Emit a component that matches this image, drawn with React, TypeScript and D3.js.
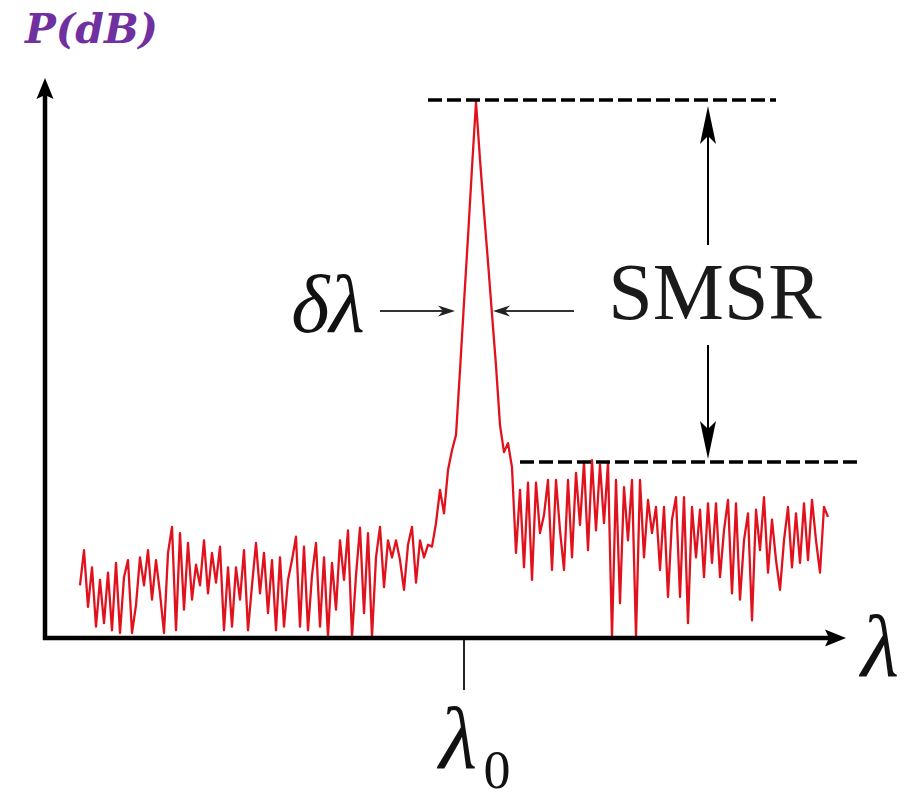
import React from "react";
import * as d3 from "d3";

// Optical spectrum of a single-mode laser (power in dB, uniformly sampled in wavelength)
const powerDb: number[] = [
  -53.7, -49.8, -56.1, -51.7, -58.3, -53.1, -57.9, -52.3, -58.7, -51.2,
  -59.0, -52.8, -50.9, -59.0, -55.9, -50.6, -53.7, -49.8, -55.3, -50.9,
  -54.6, -59.0, -50.1, -47.2, -58.7, -47.9, -56.4, -49.0, -55.3, -51.4,
  -53.7, -48.7, -54.6, -50.1, -53.4, -49.4, -58.7, -51.7, -58.3, -51.7,
  -55.3, -49.8, -58.7, -53.7, -49.0, -54.6, -50.1, -56.8, -50.9, -58.7,
  -50.6, -58.3, -53.1, -50.9, -48.3, -58.3, -49.4, -58.7, -52.6, -49.0,
  -58.3, -50.6, -59.4, -51.2, -56.4, -48.7, -53.1, -47.6, -59.4, -52.6,
  -47.3, -56.8, -47.9, -59.4, -50.6, -47.2, -53.9, -48.7, -50.6, -48.7,
  -50.9, -54.2, -49.2, -47.2, -53.4, -48.7, -50.6, -49.2, -49.4, -46.8,
  -43.1, -45.7, -40.9, -38.7, -37.0, -29.8, -22.3, -15.0, -7.3, 0.0,
  -6.4, -12.2, -17.8, -23.6, -29.3, -35.9, -38.9, -37.9, -40.6, -50.1,
  -43.1, -51.7, -42.3, -53.1, -42.3, -47.9, -45.9, -42.0, -52.0, -42.0,
  -47.6, -52.0, -42.0, -50.6, -41.2, -47.0, -40.0, -49.8, -39.8, -47.6,
  -40.3, -46.8, -40.1, -59.4, -42.0, -55.7, -42.8, -48.7, -42.0, -59.4,
  -42.0, -50.6, -44.2, -47.9, -45.0, -52.0, -45.0, -55.0, -46.4, -43.9,
  -55.0, -43.9, -57.9, -45.0, -50.6, -45.3, -52.8, -44.6, -51.2, -44.6,
  -52.8, -47.6, -44.2, -54.6, -44.6, -55.3, -48.7, -45.7, -57.6, -45.3,
  -49.8, -43.9, -52.3, -46.4, -50.9, -54.2, -48.7, -45.0, -51.7, -45.7,
  -51.2, -44.6, -50.9, -44.2, -48.7, -52.3, -45.0, -46.1,
];

// Marked levels and positions
const peakDb = 0;
const sideModeDb = -40;
const lambda0Index = 96;

// Text
const yAxisLabel = "P(dB)";
const xAxisLabel = "λ";
const widthLabel = "δλ";
const smsrLabel = "SMSR";
const centerLabel = "λ";
const centerSub = "0";

const W = 917;
const H = 799;
const originX = 45;
const originY = 638;

const x = d3.scaleLinear().domain([0, powerDb.length - 1]).range([80, 828]);
const y = d3.scaleLinear().domain([-60, 0]).range([642, 102]);

const trace = d3
  .line<number>()
  .x((_, i) => x(i))
  .y((d) => y(d))
  .curve(d3.curveLinear);

// Notched arrowhead with its tip at (tx, ty) pointing along (dx, dy)
function arrowHead(tx: number, ty: number, dx: number, dy: number, len: number, half: number, notch: number) {
  const m = Math.hypot(dx, dy);
  const ux = dx / m;
  const uy = dy / m;
  const px = -uy;
  const py = ux;
  const bx = tx - ux * len;
  const by = ty - uy * len;
  const nx = tx - ux * (len - notch);
  const ny = ty - uy * (len - notch);
  return `M${tx},${ty}L${bx + px * half},${by + py * half}L${nx},${ny}L${bx - px * half},${by - py * half}Z`;
}

export default function App() {
  const serif = "'Liberation Serif', 'Times New Roman', serif";
  const yTop = y(peakDb);
  const ySide = y(sideModeDb);
  const smsrX = 708;
  const dlY = 311;
  const tickX = x(lambda0Index);

  return (
    <svg
      width={W}
      height={H}
      viewBox={`0 0 ${W} ${H}`}
      style={{ position: "absolute", left: 0, top: 0, background: "#fff" }}
    >
      {/* spectrum */}
      <path
        d={trace(powerDb) ?? ""}
        fill="none"
        stroke="#e0121d"
        strokeWidth={2.3}
        strokeLinejoin="round"
      />

      {/* reference levels */}
      <line x1={428} x2={776} y1={yTop - 2} y2={yTop - 2} stroke="#000" strokeWidth={3.5} strokeDasharray="14 5" />
      <line x1={520} x2={862} y1={ySide} y2={ySide} stroke="#000" strokeWidth={3.5} strokeDasharray="14 5" />

      {/* axes */}
      <line x1={originX} x2={originX} y1={originY + 2} y2={92} stroke="#000" strokeWidth={4.5} />
      <path d={arrowHead(originX, 78, 0, -1, 21, 8.5, 4)} fill="#000" />
      <line x1={originX - 2} x2={830} y1={originY} y2={originY} stroke="#000" strokeWidth={4.5} />
      <path d={arrowHead(846, originY, 1, 0, 21, 8.5, 4)} fill="#000" />

      {/* center wavelength tick */}
      <line x1={tickX} x2={tickX} y1={originY + 2} y2={690} stroke="#222" strokeWidth={2} />

      {/* linewidth arrows */}
      <line x1={380} x2={445} y1={dlY} y2={dlY} stroke="#333" strokeWidth={2} />
      <path d={arrowHead(455, dlY, 1, 0, 17, 5.5, 5)} fill="#222" />
      <line x1={574} x2={503} y1={dlY} y2={dlY} stroke="#333" strokeWidth={2} />
      <path d={arrowHead(493, dlY, -1, 0, 17, 5.5, 5)} fill="#222" />

      {/* SMSR arrows */}
      <line x1={smsrX} x2={smsrX} y1={245} y2={130} stroke="#000" strokeWidth={2} />
      <path d={arrowHead(smsrX, yTop + 4, 0, -1, 38, 8, 8)} fill="#000" />
      <line x1={smsrX} x2={smsrX} y1={345} y2={430} stroke="#000" strokeWidth={2} />
      <path d={arrowHead(smsrX, ySide - 3, 0, 1, 38, 8, 8)} fill="#000" />

      {/* labels */}
      <text
        x={25}
        y={43}
        fill="#7030a0"
        fontFamily="'DejaVu Serif', serif"
        fontWeight="bold"
        fontStyle="italic"
        fontSize={41}
      >
        {yAxisLabel}
      </text>
      <text x={715} y={319} textAnchor="middle" fill="#1a1a1a" fontFamily={serif} fontSize={80}>
        {smsrLabel}
      </text>
      <text x={328} y={332} textAnchor="middle" fill="#111" fontFamily={serif} fontStyle="italic" fontSize={82}>
        {widthLabel}
      </text>
      <text x={880} y={676} textAnchor="middle" fill="#111" fontFamily={serif} fontStyle="italic" fontSize={88}>
        {xAxisLabel}
      </text>
      <text x={458} y={768} textAnchor="middle" fill="#111" fontFamily={serif} fontStyle="italic" fontSize={88}>
        {centerLabel}
      </text>
      <text x={497} y={788} textAnchor="middle" fill="#111" fontFamily={serif} fontSize={54}>
        {centerSub}
      </text>
    </svg>
  );
}
